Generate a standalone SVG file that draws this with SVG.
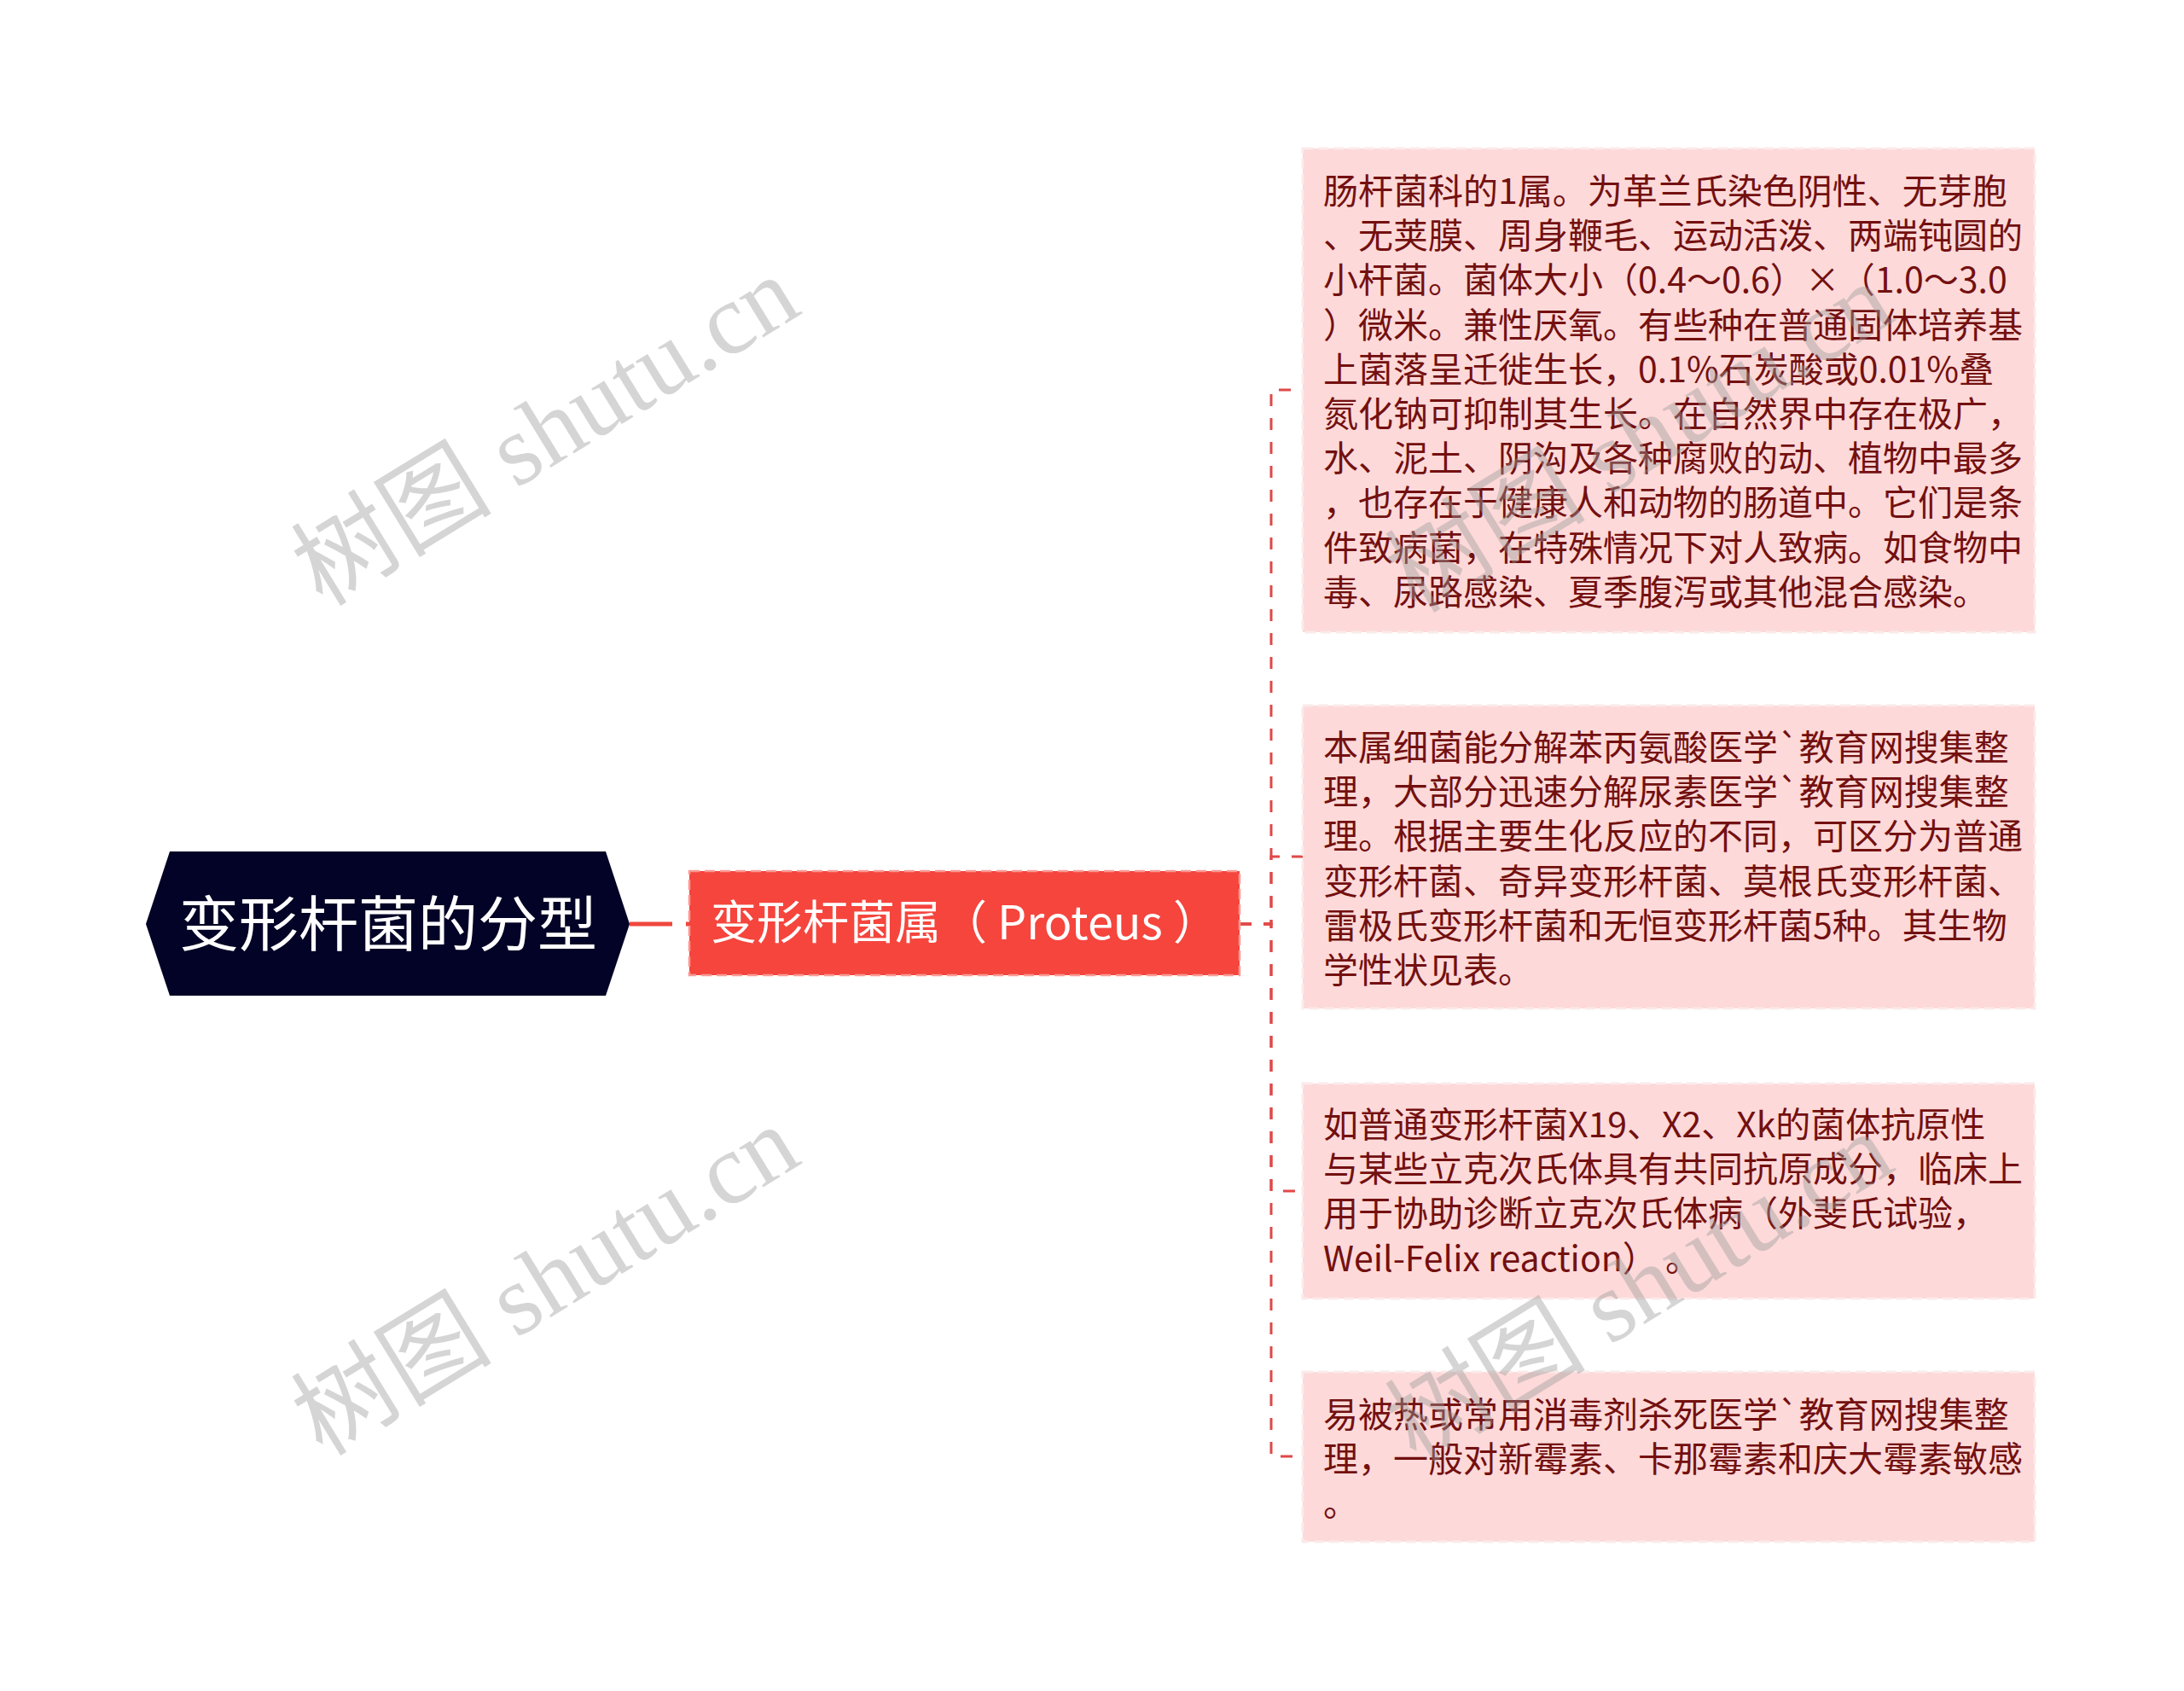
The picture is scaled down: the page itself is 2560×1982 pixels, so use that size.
<svg xmlns="http://www.w3.org/2000/svg" width="2560" height="1982" viewBox="0 0 2560 1982">
<style>
.wm{font-family:"Liberation Serif","Noto Sans CJK SC",serif;font-size:118px;fill:#9a9a9a;fill-opacity:0.42}
.leaf rect{fill:#fdd9d9;stroke:#fbeaea;stroke-width:3;stroke-dasharray:12 6}
.leaf text{font-family:"Noto Sans CJK SC","Noto Sans",sans-serif;font-size:41px;fill:#731010}
.conn{fill:none;stroke:#e04848;stroke-width:3;stroke-dasharray:14 14}
</style>
<rect width="2560" height="1982" fill="#ffffff"/>
<g id="connectors">
<path d="M738,1083 H808" fill="none" stroke="#f0463d" stroke-width="5" stroke-dasharray="50 16"/>
<path class="conn" d="M1453,1083 H1490 V457 H1527"/>
<path class="conn" d="M1453,1083 H1490 V1004 H1527"/>
<path class="conn" d="M1453,1083 H1490 V1396 H1527"/>
<path class="conn" d="M1453,1083 H1490 V1707 H1527"/>
</g>
<g id="root">
<polygon points="171,1083 199,998 710,998 738,1083 710,1167 199,1167" fill="#020326"/>
<text x="455" y="1109" text-anchor="middle" font-family="Noto Sans CJK SC, Noto Sans, sans-serif" font-size="70" fill="#ffffff">变形杆菌的分型</text>
</g>
<g id="genus">
<rect x="808" y="1021" width="645" height="122" fill="#f5453d" stroke="#f99a94" stroke-width="2.5" stroke-dasharray="12 6"/>
<text x="1131" y="1101" text-anchor="middle" font-family="Noto Sans CJK SC, Noto Sans, sans-serif" font-size="54" fill="#ffffff">变形杆菌属（ Proteus ）</text>
</g>
<g id="leaf1" class="leaf">
<rect x="1527" y="174" width="858" height="567"/>
<text x="1551" y="239">肠杆菌科的1属。为革兰氏染色阴性、无芽胞</text>
<text x="1551" y="291.2">、无荚膜、周身鞭毛、运动活泼、两端钝圆的</text>
<text x="1551" y="343.4">小杆菌。菌体大小（0.4～0.6）×（1.0～3.0</text>
<text x="1551" y="395.6">）微米。兼性厌氧。有些种在普通固体培养基</text>
<text x="1551" y="447.8">上菌落呈迁徙生长，0.1%石炭酸或0.01%叠</text>
<text x="1551" y="500">氮化钠可抑制其生长。在自然界中存在极广，</text>
<text x="1551" y="552.2">水、泥土、阴沟及各种腐败的动、植物中最多</text>
<text x="1551" y="604.4">，也存在于健康人和动物的肠道中。它们是条</text>
<text x="1551" y="656.6">件致病菌，在特殊情况下对人致病。如食物中</text>
<text x="1551" y="708.8">毒、尿路感染、夏季腹泻或其他混合感染。</text>
</g>
<g id="leaf2" class="leaf">
<rect x="1527" y="827" width="858" height="355"/>
<text x="1551" y="891">本属细菌能分解苯丙氨酸医学`教育网搜集整</text>
<text x="1551" y="943.2">理，大部分迅速分解尿素医学`教育网搜集整</text>
<text x="1551" y="995.4">理。根据主要生化反应的不同，可区分为普通</text>
<text x="1551" y="1047.6">变形杆菌、奇异变形杆菌、莫根氏变形杆菌、</text>
<text x="1551" y="1099.8">雷极氏变形杆菌和无恒变形杆菌5种。其生物</text>
<text x="1551" y="1152">学性状见表。</text>
</g>
<g id="leaf3" class="leaf">
<rect x="1527" y="1270" width="858" height="252"/>
<text x="1551" y="1333">如普通变形杆菌X19、X2、Xk的菌体抗原性</text>
<text x="1551" y="1385.2">与某些立克次氏体具有共同抗原成分，临床上</text>
<text x="1551" y="1437.4">用于协助诊断立克次氏体病（外斐氏试验，</text>
<text x="1551" y="1489.6">Weil-Felix reaction） 。</text>
</g>
<g id="leaf4" class="leaf">
<rect x="1527" y="1608" width="858" height="199"/>
<text x="1551" y="1673">易被热或常用消毒剂杀死医学`教育网搜集整</text>
<text x="1551" y="1725.2">理，一般对新霉素、卡那霉素和庆大霉素敏感</text>
<text x="1551" y="1777.4">。</text>
</g>
<g id="watermarks">
<text class="wm" transform="translate(378,712) rotate(-31.5)">树图 shutu.cn</text>
<text class="wm" transform="translate(378,1708) rotate(-31.5)">树图 shutu.cn</text>
<text class="wm" transform="translate(1660,720) rotate(-31.5)">树图 shutu.cn</text>
<text class="wm" transform="translate(1660,1716) rotate(-31.5)">树图 shutu.cn</text>
</g>
</svg>
